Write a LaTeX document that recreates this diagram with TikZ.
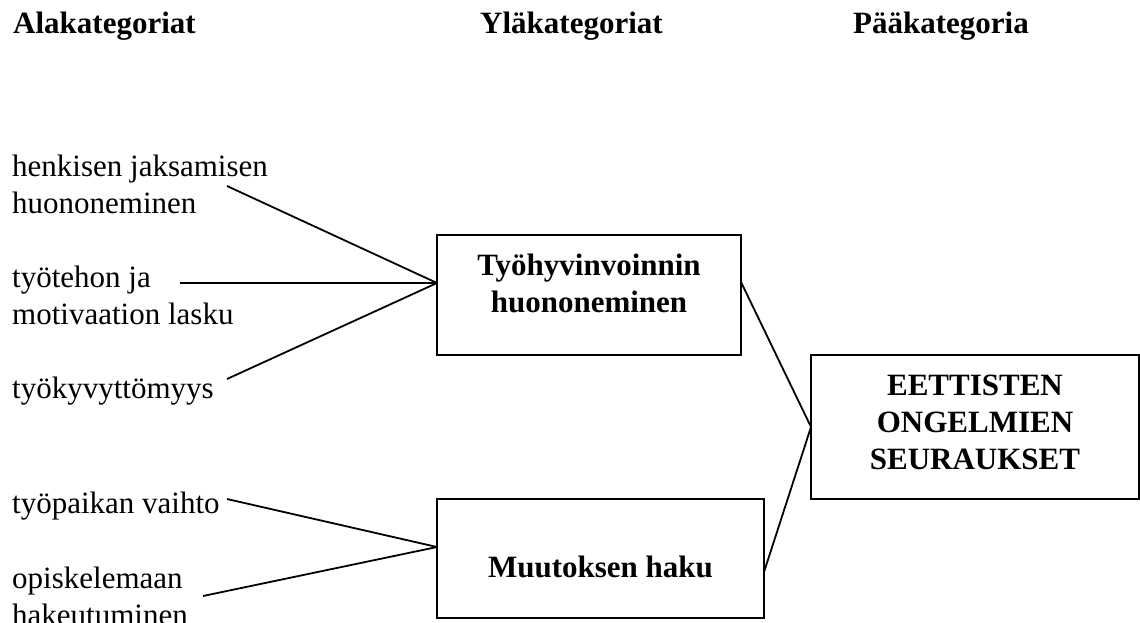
\documentclass[tikz,border=0pt]{standalone}
\usepackage{fontspec}
\setmainfont{Liberation Serif}
% multi-line text whose baseline is that of its first line
\newcommand{\leftlines}[1]{\begin{tabular}[t]{@{}l@{}}#1\end{tabular}}
\newcommand{\midlines}[1]{\begin{tabular}[t]{@{}c@{}}#1\end{tabular}}
\begin{document}
\begin{tikzpicture}[x=1pt,y=-1pt,
  lbl/.style={font=\fontsize{31}{37}\selectfont, inner sep=0pt, anchor=base west},
  hdr/.style={font=\fontsize{31}{37}\selectfont\bfseries, inner sep=0pt, anchor=base west},
  catbox/.style={draw, line width=1.8pt, inner sep=0pt, outer sep=0pt},
  boxtext/.style={font=\fontsize{31}{37}\selectfont\bfseries, inner sep=0pt, anchor=base},
  link/.style={line width=1.8pt}]
\useasboundingbox (0,0) rectangle (1140,622);

% column headings
\node[hdr] (h1) at (13,33) {Alakategoriat};
\node[hdr] (h2) at (480,33) {Yläkategoriat};
\node[hdr] (h3) at (853,33) {Pääkategoria};

% sub-categories
\node[lbl] (s1) at (12,176) {\leftlines{henkisen jaksamisen\\huononeminen}};
\node[lbl] (s2) at (12,287) {\leftlines{työtehon ja\\motivaation lasku}};
\node[lbl] (s3) at (12,398) {työkyvyttömyys};
\node[lbl] (s4) at (12,513) {työpaikan vaihto};
\node[lbl] (s5) at (12,588) {\leftlines{opiskelemaan\\hakeutuminen}};

% category boxes
\node[catbox, minimum width=304pt, minimum height=120pt] (b1) at (589,295) {};
\node[boxtext] (t1) at (589,275) {\midlines{Työhyvinvoinnin\\huononeminen}};
\node[catbox, minimum width=327pt, minimum height=119pt] (b2) at (600.5,558.5) {};
\node[boxtext] (t2) at (600.5,577) {Muutoksen haku};
\node[catbox, minimum width=328pt, minimum height=144pt] (b3) at (975,427) {};
\node[boxtext] (t3) at (975,395) {\midlines{EETTISTEN\\ONGELMIEN\\SEURAUKSET}};

% connector end points
\coordinate (e1) at (227,186);
\coordinate (e2) at (180,283);
\coordinate (e3) at (227,379);
\coordinate (e4) at (227,499);
\coordinate (e5) at (203,596);
\coordinate (b1in) at (437,283);
\coordinate (b2in) at (437,547);
\coordinate (b1out) at (741,282);
\coordinate (b2out) at (764,572);
\coordinate (b3in) at (811,427);

% connectors
\draw[link] (e1) -- (b1in);
\draw[link] (e2) -- (b1in);
\draw[link] (e3) -- (b1in);
\draw[link] (e4) -- (b2in);
\draw[link] (e5) -- (b2in);
\draw[link] (b1out) -- (b3in);
\draw[link] (b2out) -- (b3in);
\end{tikzpicture}
\end{document}
